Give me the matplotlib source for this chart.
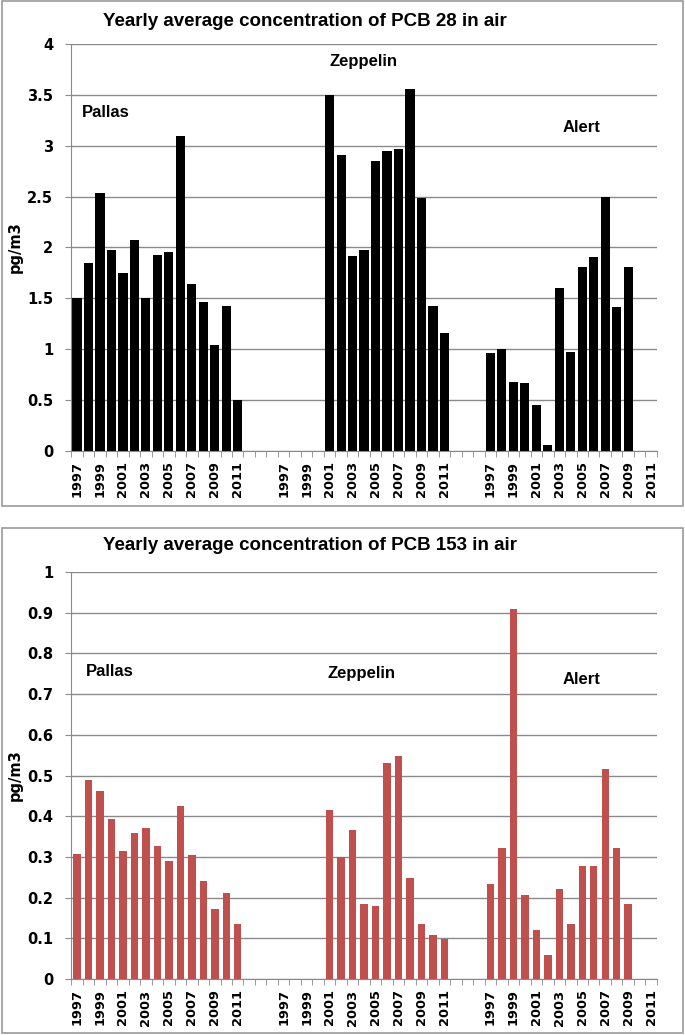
import matplotlib.pyplot as plt
import numpy as np
from matplotlib.patches import Rectangle

plt.rcParams['font.family'] = ['Liberation Sans', 'DejaVu Sans']
plt.rcParams['font.weight'] = 'bold'

nan = np.nan
years = [str(y) for y in range(1997, 2012)]
stations = ['Pallas', 'Zeppelin', 'Alert']

# PCB 28, pg/m3
pcb28_pallas = [1.50, 1.85, 2.54, 1.98, 1.75, 2.07, 1.50, 1.93, 1.96, 3.10, 1.64, 1.46, 1.04, 1.42, 0.50]
pcb28_zeppelin = [nan, nan, nan, nan, 3.50, 2.91, 1.92, 1.98, 2.85, 2.95, 2.97, 3.56, 2.49, 1.42, 1.16]
pcb28_alert = [0.96, 1.00, 0.68, 0.67, 0.45, 0.06, 1.60, 0.97, 1.81, 1.91, 2.50, 1.41, 1.81, nan, nan]

# PCB 153, pg/m3
pcb153_pallas = [0.307, 0.488, 0.463, 0.393, 0.315, 0.360, 0.370, 0.328, 0.290, 0.424, 0.304, 0.242, 0.173, 0.212, 0.134]
pcb153_zeppelin = [nan, nan, nan, nan, 0.415, 0.300, 0.365, 0.185, 0.179, 0.532, 0.548, 0.249, 0.134, 0.109, 0.099]
pcb153_alert = [0.234, 0.321, 0.910, 0.206, 0.120, 0.058, 0.220, 0.134, 0.278, 0.278, 0.517, 0.323, 0.185, nan, nan]

gap = 3  # empty categories between stations
tickfont = 'DejaVu Sans'
grey = '#8a8a8a'


def build(series):
    vals, labels = [], []
    for i, s in enumerate(series):
        vals += list(s)
        labels += years
        if i < len(series) - 1:
            vals += [nan] * gap
            labels += [''] * gap
    return np.array(vals, dtype=float), labels


def draw(ax, series, color, width, ymax, ystep, label_pos):
    vals, labels = build(series)
    x = np.arange(len(vals))
    ax.set_axisbelow(True)
    ax.bar(x, np.nan_to_num(vals), width=width, color=color, edgecolor='none')
    ax.set_xlim(-0.5, len(vals) - 0.5)
    ax.set_ylim(0, ymax)
    yt = np.arange(0, ymax + ystep / 2, ystep)
    ax.set_yticks(yt)
    ax.set_yticklabels(['%g' % round(v, 2) for v in yt], family=tickfont, fontsize=10.5)
    ax.yaxis.grid(True, color=grey, lw=1)
    ax.set_xticks(x[::2])
    ax.set_xticklabels(labels[::2], rotation=90, family=tickfont, fontsize=9.4)
    ax.set_xticks(np.arange(-0.5, len(vals)), minor=True)
    ax.tick_params(axis='x', which='major', length=0, pad=7.5)
    ax.tick_params(axis='x', which='minor', length=4, color=grey)
    ax.tick_params(axis='y', length=4.5, color=grey, pad=8.5)
    for s in ['top', 'right']:
        ax.spines[s].set_visible(False)
    for s in ['left', 'bottom']:
        ax.spines[s].set_color(grey)
    ax.set_ylabel('pg/m3', family=tickfont, fontsize=10.5, fontweight='bold', labelpad=3)
    for name, (xp, yp) in zip(stations, label_pos):
        ax.text(xp, yp, name, fontsize=12, ha='left', va='center')


fig = plt.figure(figsize=(6.85, 10.35), dpi=100)

for y0 in [1, 528]:
    fig.patches.append(Rectangle((1.5 / 685, 1 - (y0 + 505) / 1035), 681 / 685, 505 / 1035,
                                 transform=fig.transFigure, fill=False, edgecolor='#9a9a9a', lw=1.2))

ax1 = fig.add_axes([0.104, 0.5643, 0.855, 0.3932])
draw(ax1, [pcb28_pallas, pcb28_zeppelin, pcb28_alert], 'black', 0.8, 4, 0.5,
     [(0.4, 3.33), (22.0, 3.83), (42.3, 3.18)])
fig.text(305 / 685, 1 - 21 / 1035, 'Yearly average concentration of PCB 28 in air',
         ha='center', va='center', fontsize=13.5)

ax2 = fig.add_axes([0.104, 0.0541, 0.855, 0.3932])
draw(ax2, [pcb153_pallas, pcb153_zeppelin, pcb153_alert], '#C0504D', 0.65, 1, 0.1,
     [(0.8, 0.755), (21.8, 0.75), (42.3, 0.735)])
fig.text(310 / 685, 1 - 546 / 1035, 'Yearly average concentration of PCB 153 in air',
         ha='center', va='center', fontsize=13.5)

fig.savefig('out.png', dpi=100)
